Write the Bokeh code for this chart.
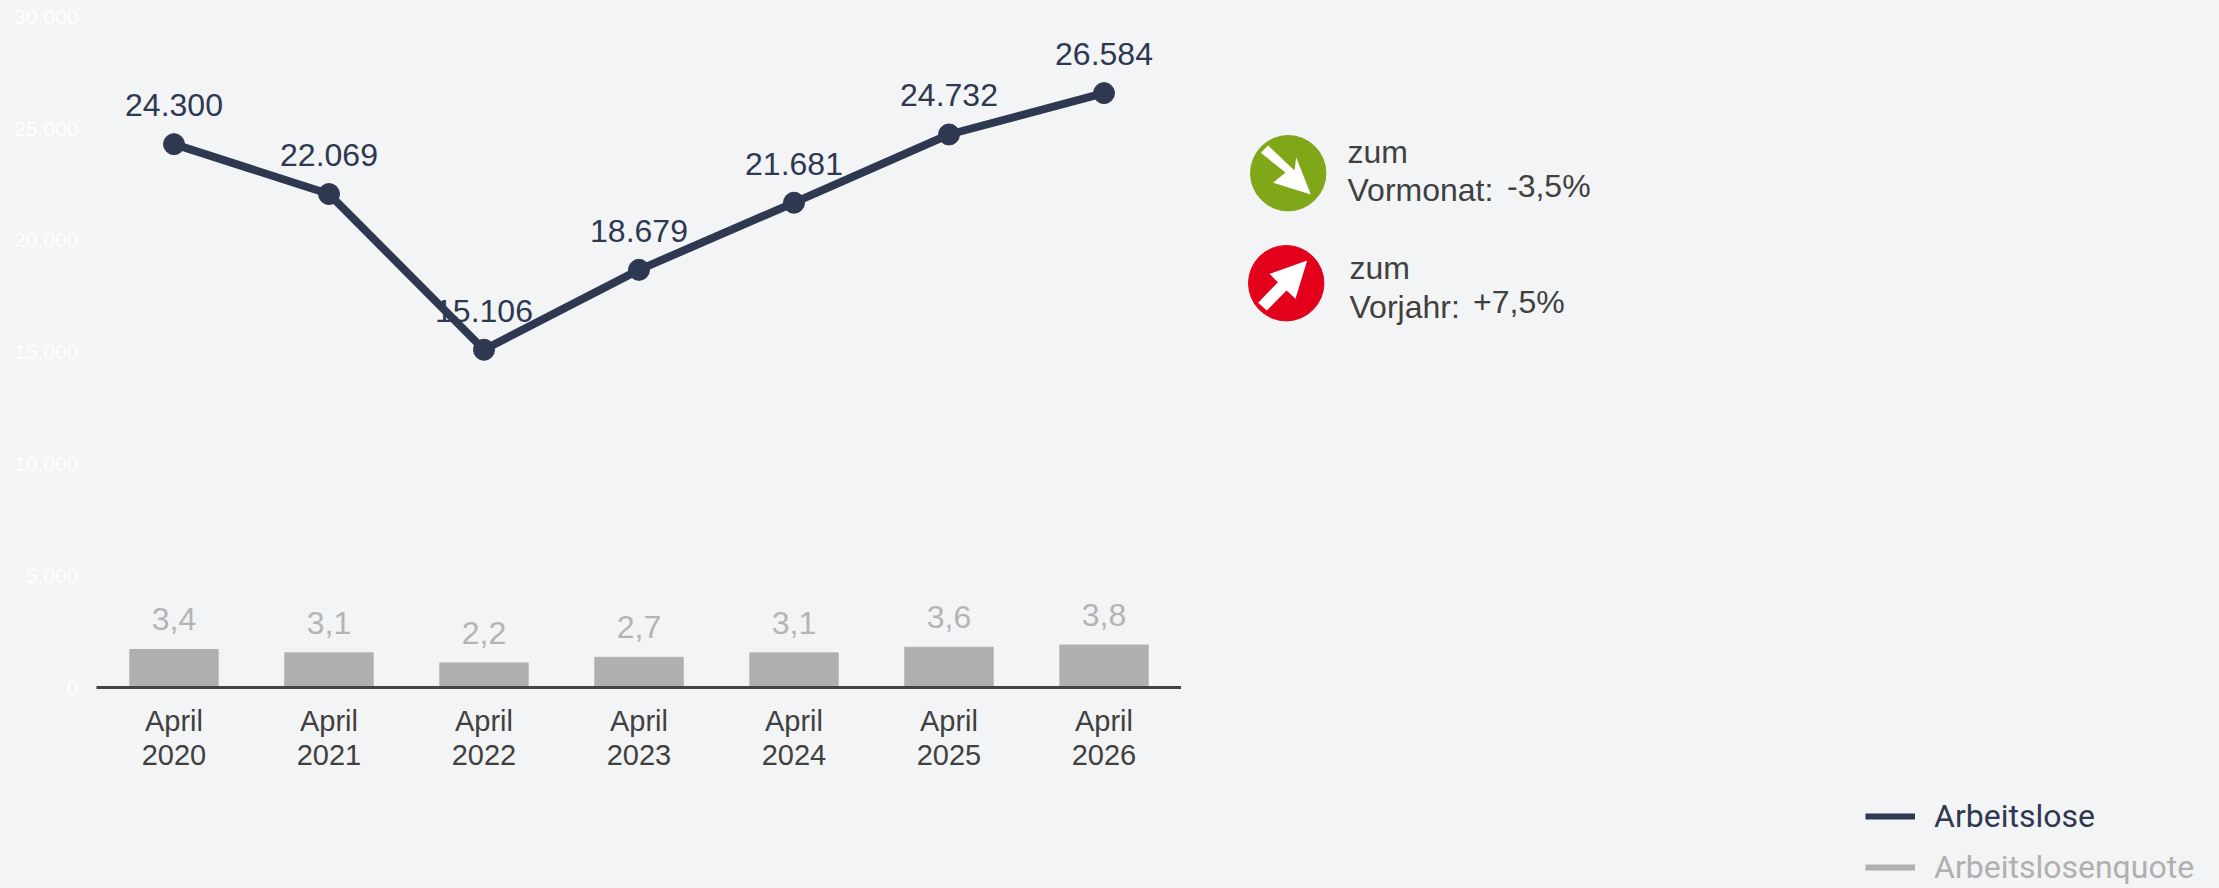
import numpy as np
from bokeh.plotting import figure
from bokeh.layouts import row
from bokeh.embed import file_html
from bokeh.resources import INLINE
from bokeh.core.properties import value
from bokeh.models import (ColumnDataSource, FixedTicker, FactorRange, Range1d, Legend, LegendItem)

categories = ["April\n2020", "April\n2021", "April\n2022", "April\n2023", "April\n2024", "April\n2025", "April\n2026"]
arbeitslose = [24300, 22069, 15106, 18679, 21681, 24732, 26584]
arbeitslose_labels = ["24.300", "22.069", "15.106", "18.679", "21.681", "24.732", "26.584"]
quote = [3.4, 3.1, 2.2, 2.7, 3.1, 3.6, 3.8]
quote_labels = ["3,4", "3,1", "2,2", "2,7", "3,1", "3,6", "3,8"]
y_ticks = [0, 5000, 10000, 15000, 20000, 25000, 30000]
y_tick_labels = ["0", "5.000", "10.000", "15.000", "20.000", "25.000", "30.000"]

BG = "#f2f4f6"
NAVY = "#2e3850"
GREY = "#b0b0b0"
LABELGREY = "#b4b4b4"
TEXT = "#404040"
ARIAL = "Liberation Sans"

W, H = 2219, 888
F_L, F_R, F_T, F_B = 96, 1181, 0, 687
scale = 111.8 / 5000

p = figure(width=F_R, height=H, output_backend="svg", toolbar_location=None,
           x_range=FactorRange(factors=categories, range_padding=0, factor_padding=0),
           y_range=Range1d(0, (F_B - F_T) / scale), frame_align=False,
           min_border_left=F_L, min_border_right=0, min_border_top=F_T, min_border_bottom=H - F_B,
           background_fill_color=BG, border_fill_color=BG, outline_line_color=None,
           styles={"background-color": BG})
p.extra_y_ranges = {"quote": Range1d(0, (F_B - F_T) / scale / 500)}
p.grid.visible = False

p.yaxis.ticker = FixedTicker(ticks=y_ticks)
p.yaxis.major_label_overrides = dict(zip(y_ticks, y_tick_labels))
p.yaxis.major_label_text_color = "#ffffff"
p.yaxis.major_label_text_font = ARIAL
p.yaxis.major_label_text_font_size = "21px"
p.yaxis.axis_line_color = None
p.yaxis.major_tick_line_color = None
p.yaxis.minor_tick_line_color = None
p.yaxis.major_tick_in = 0
p.yaxis.major_tick_out = 0
p.yaxis.major_label_standoff = 18

p.xaxis.axis_line_color = "#444444"
p.xaxis.axis_line_width = 3
p.xaxis.major_tick_line_color = None
p.xaxis.minor_tick_line_color = None
p.xaxis.major_tick_in = 0
p.xaxis.major_tick_out = 0
p.xaxis.major_label_text_color = TEXT
p.xaxis.major_label_text_font = ARIAL
p.xaxis.major_label_text_font_size = "29px"
p.xaxis.major_label_text_line_height = 1.08
p.xaxis.major_label_standoff = 17

src = ColumnDataSource(dict(cat=categories, a=arbeitslose, al=arbeitslose_labels, q=quote, ql=quote_labels))
p.vbar(x="cat", top="q", width=0.57, color=GREY, y_range_name="quote", source=src)
p.text(x="cat", y="q", text="ql", y_range_name="quote", source=src, text_align="center",
       text_baseline="middle", y_offset=-30, text_color=LABELGREY, text_font=value(ARIAL), text_font_size="32px")
p.line(x="cat", y="a", line_color=NAVY, line_width=8, source=src)
p.scatter(x="cat", y="a", size=21, color=NAVY, source=src)
p.text(x="cat", y="a", text="al", source=src, text_align="center", text_baseline="middle",
       y_offset=-39, text_color=NAVY, text_font=value(ARIAL), text_font_size="32px")

# Right-hand panel: its ranges run in page pixels
side = figure(width=W - F_R, height=H, output_backend="svg", toolbar_location=None,
              x_range=Range1d(F_R, W), y_range=Range1d(H, 0), frame_align=False,
              min_border=0, x_axis_type=None, y_axis_type=None,
              background_fill_color=BG, border_fill_color=BG, outline_line_color=None,
              styles={"background-color": BG})
side.grid.visible = False

side.scatter(x=[1287.7, 1285.7], y=[172.7, 282.7], size=75.4, color=["#7fa718", "#e3001b"])


def zoomed(pts):
    return [1200 + a / 3 for a, _ in pts], [110 + b / 3 for _, b in pts]


arrow_down = zoomed([(203, 105), (282, 180), (287, 140), (331, 252), (218, 217), (255, 186), (181, 127)])
arrow_up = zoomed([(320, 450), (207, 490), (232, 515), (173, 577), (199, 600), (258, 540), (285, 565)])
side.patches(xs=[arrow_down[0], arrow_up[0]], ys=[arrow_down[1], arrow_up[1]], color="#ffffff", line_color=None)

info_text = ["zum", "Vormonat:", "-3,5%", "zum", "Vorjahr:", "+7,5%"]
info_x = [1347, 1347, 1506.5, 1349, 1349, 1472.5]
info_y = [151.5, 189.5, 185, 267.5, 306, 301.5]
side.text(x=info_x, y=info_y, text=info_text, text_color=TEXT, text_font=value(ARIAL), text_font_size="32px",
          text_baseline="middle", text_align="left")

nan = float("nan")
key_a = side.line(x=[nan, nan], y=[nan, nan], line_color=NAVY, line_width=6)
key_q = side.line(x=[nan, nan], y=[nan, nan], line_color=GREY, line_width=6)
for item, r, col, yloc in [("Arbeitslose", key_a, NAVY, 53), ("Arbeitslosenquote", key_q, GREY, 2)]:
    lg = Legend(items=[LegendItem(label=item, renderers=[r])], location=(1865 - F_R, yloc),
                background_fill_alpha=0, border_line_color=None, glyph_width=50, glyph_height=30,
                label_height=30, label_standoff=19, label_text_font="Roboto", label_text_font_size="32px",
                label_text_color=col, padding=0, margin=0)
    side.add_layout(lg)

open("out.html", "w").write(file_html(row(p, side, spacing=0, styles={"background-color": BG}), INLINE))
